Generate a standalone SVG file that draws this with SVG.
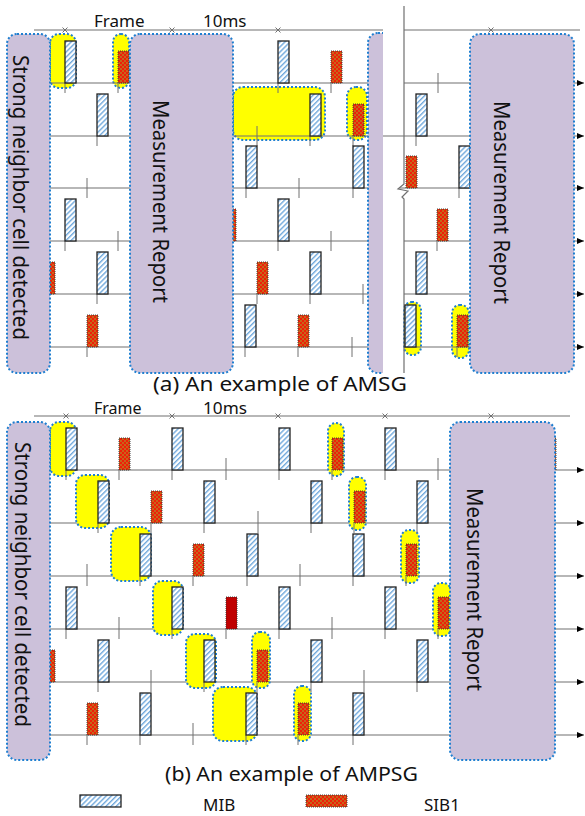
<svg xmlns="http://www.w3.org/2000/svg" width="585" height="816" viewBox="0 0 585 816">
<style>
.mib{fill:url(#hatch);stroke:#222;stroke-width:1.3}
.sib{fill:url(#check);stroke:#333;stroke-width:0.9;stroke-dasharray:1 1}
.sibd{fill:#C00000;stroke:#333;stroke-width:0.9;stroke-dasharray:1 1}
.hl{fill:#FFFF00;stroke:#1F7FD0;stroke-width:2;stroke-dasharray:2 2}
.gb{fill:#CCC1DA;stroke:#1F7FD0;stroke-width:2;stroke-dasharray:2 2}
.ln{stroke:#707070;stroke-width:1.2;fill:none}
.tk{stroke:#707070;stroke-width:1;fill:none}
.xm{stroke:#707070;stroke-width:1;fill:none}
.t{font-family:"Noto Sans","Open Sans",sans-serif;fill:#111}
</style>
<defs>
<pattern id="hatch" patternUnits="userSpaceOnUse" width="3.6" height="3.6" patternTransform="rotate(45)"><rect width="3.6" height="3.6" fill="#fff"/><rect width="1.4" height="3.6" fill="#6FA8DC"/></pattern>
<pattern id="check" patternUnits="userSpaceOnUse" width="4" height="4"><rect width="4" height="4" fill="#EE2008"/><rect width="2" height="2" fill="#C8641A"/><rect x="2" y="2" width="2" height="2" fill="#C8641A"/></pattern>
<marker id="arr" markerUnits="userSpaceOnUse" markerWidth="8" markerHeight="8" refX="7" refY="3" orient="auto"><path d="M0,0 L7,3 L0,6 z" fill="#000"/></marker>
<path id="x" d="M-2.5,-2.5 L2.5,2.5 M-2.5,2.5 L2.5,-2.5"/>
<clipPath id="cutA"><rect x="0" y="0" width="383" height="400"/></clipPath>
</defs>

<!-- ===== Part (a) ===== -->
<g id="highlights-a">
<rect class="hl" x="50" y="34" width="26" height="54" rx="9"/>
<rect class="hl" x="113" y="34" width="16" height="54" rx="8"/>
<rect class="hl" x="233" y="87" width="92" height="53" rx="10"/>
<rect class="hl" x="347" y="87" width="20" height="53" rx="9"/>
<rect class="hl" x="404" y="302" width="17" height="53" rx="8"/>
<rect class="hl" x="452" y="305" width="17" height="53" rx="8"/>
</g>

<g id="connectors">
<!-- timeline a -->
<path class="ln" d="M34,30 H383 M404,30 H580"/>
<use href="#x" class="xm" x="65" y="30"/><use href="#x" class="xm" x="172" y="30"/><use href="#x" class="xm" x="278" y="30"/><use href="#x" class="xm" x="491" y="30"/>
<path class="ln" d="M404,6 V184 L398,189 L408,191 L402,197 L404,199 V373"/>
<!-- rows a -->
<path class="ln" d="M50,83 H383"/><path class="ln" d="M404,83 H584" marker-end="url(#arr)"/>
<path class="ln" d="M50,136 H584" marker-end="url(#arr)"/>
<path class="ln" d="M50,188 H383"/><path class="ln" d="M400,188 H584" marker-end="url(#arr)"/>
<path class="ln" d="M50,241 H383"/><path class="ln" d="M404,241 H584" marker-end="url(#arr)"/>
<path class="ln" d="M50,294 H383"/><path class="ln" d="M404,294 H584" marker-end="url(#arr)"/>
<path class="ln" d="M50,347 H383"/><path class="ln" d="M404,347 H584" marker-end="url(#arr)"/>
<!-- ticks a -->
<path class="tk" d="M65,83 V93 M118,83 V93 M278,83 V93 M331,83 V93 M438,73 V93
M97,136 V146 M257,126 V146 M310,136 V146 M353,136 V146 M416,136 V146
M87,178 V198 M246,188 V198 M299,178 V198 M353,188 V198 M459,188 V198
M65,241 V251 M118,231 V251 M278,241 V251 M331,231 V251 M437,241 V251
M97,294 V304 M257,294 V304 M310,294 V304 M363,284 V304
M87,347 V357 M245,347 V357 M298,347 V357 M352,337 V357 M457,347 V357"/>

<!-- timeline b -->
<path class="ln" d="M34,416 H570"/>
<use href="#x" class="xm" x="66" y="416"/><use href="#x" class="xm" x="172" y="416"/><use href="#x" class="xm" x="278" y="416"/><use href="#x" class="xm" x="385" y="416"/><use href="#x" class="xm" x="491" y="416"/>
<!-- rows b -->
<path class="ln" d="M50,470 H584" marker-end="url(#arr)"/>
<path class="ln" d="M50,523 H584" marker-end="url(#arr)"/>
<path class="ln" d="M50,576 H584" marker-end="url(#arr)"/>
<path class="ln" d="M50,629 H584" marker-end="url(#arr)"/>
<path class="ln" d="M50,682 H584" marker-end="url(#arr)"/>
<path class="ln" d="M50,735 H584" marker-end="url(#arr)"/>
</g>

<g id="highlights-b">
<rect class="hl" x="50" y="422" width="26" height="54" rx="9"/>
<rect class="hl" x="328" y="423" width="16" height="53" rx="8"/>
<rect class="hl" x="76" y="475" width="33" height="53" rx="9"/>
<rect class="hl" x="349" y="477" width="17" height="53" rx="8"/>
<rect class="hl" x="111" y="527" width="40" height="54" rx="10"/>
<rect class="hl" x="401" y="530" width="18" height="53" rx="8"/>
<rect class="hl" x="153" y="581" width="30" height="54" rx="9"/>
<rect class="hl" x="433" y="583" width="18" height="53" rx="8"/>
<rect class="hl" x="186" y="634" width="30" height="54" rx="9"/>
<rect class="hl" x="252" y="632" width="18" height="56" rx="8"/>
<rect class="hl" x="213" y="687" width="44" height="54" rx="10"/>
<rect class="hl" x="294" y="686" width="17" height="55" rx="8"/>
</g>

<g id="ticks-b">
<path class="tk" d="M66,470 V480 M119,470 V480 M172,470 V480 M226,458 V480 M279,470 V480 M332,470 V480 M385,470 V480 M438,458 V480
M98,523 V533 M151,523 V533 M204,523 V533 M258,511 V533 M311,523 V533 M354,523 V533 M417,523 V533
M87,564 V586 M140,576 V586 M193,576 V586 M247,576 V586 M300,564 V586 M353,576 V586 M406,576 V586
M66,629 V639 M119,617 V639 M172,629 V639 M226,629 V639 M279,629 V639 M332,617 V639 M385,629 V639 M438,629 V639
M98,682 V692 M151,670 V692 M204,682 V692 M257,682 V692 M311,682 V692 M364,670 V692 M417,682 V692
M87,735 V745 M140,735 V745 M193,723 V745 M246,735 V745 M298,735 V745 M353,735 V745"/>
</g>

<g id="blocks-a">
<rect class="mib" x="65" y="41" width="11" height="42"/>
<rect class="sib" x="118" y="51" width="11" height="32"/>
<rect class="mib" x="278" y="41" width="11" height="42"/>
<rect class="sib" x="331" y="51" width="11" height="32"/>
<rect class="mib" x="97" y="94" width="11" height="42"/>
<rect class="mib" x="310" y="94" width="11" height="42"/>
<rect class="sib" x="353" y="104" width="11" height="32"/>
<rect class="mib" x="416" y="94" width="11" height="42"/>
<rect class="mib" x="246" y="146" width="11" height="42"/>
<rect class="mib" x="353" y="146" width="11" height="42"/>
<rect class="sib" x="406" y="156" width="11" height="32"/>
<rect class="mib" x="459" y="146" width="11" height="42"/>
<rect class="mib" x="65" y="199" width="11" height="42"/>
<rect class="sib" x="225" y="209" width="11" height="32"/>
<rect class="mib" x="278" y="199" width="11" height="42"/>
<rect class="sib" x="437" y="209" width="11" height="32"/>
<rect class="sib" x="44" y="262" width="11" height="32"/>
<rect class="mib" x="97" y="252" width="11" height="42"/>
<rect class="sib" x="257" y="262" width="11" height="32"/>
<rect class="mib" x="310" y="252" width="11" height="42"/>
<rect class="mib" x="416" y="252" width="11" height="42"/>
<rect class="sib" x="87" y="315" width="11" height="32"/>
<rect class="mib" x="245" y="305" width="11" height="42"/>
<rect class="sib" x="298" y="315" width="11" height="32"/>
<rect class="mib" x="405" y="305" width="11" height="42"/>
<rect class="sib" x="457" y="315" width="11" height="32"/>
</g>

<g id="blocks-b">
<rect class="mib" x="66" y="428" width="11" height="42"/>
<rect class="sib" x="119" y="438" width="11" height="32"/>
<rect class="mib" x="172" y="428" width="11" height="42"/>
<rect class="mib" x="279" y="428" width="11" height="42"/>
<rect class="sib" x="332" y="438" width="11" height="32"/>
<rect class="mib" x="385" y="428" width="11" height="42"/>
<rect class="sib" x="545" y="438" width="11" height="32"/>
<rect class="mib" x="98" y="481" width="11" height="42"/>
<rect class="sib" x="151" y="491" width="11" height="32"/>
<rect class="mib" x="204" y="481" width="11" height="42"/>
<rect class="mib" x="311" y="481" width="11" height="42"/>
<rect class="sib" x="354" y="491" width="11" height="32"/>
<rect class="mib" x="417" y="481" width="11" height="42"/>
<rect class="mib" x="140" y="534" width="11" height="42"/>
<rect class="sib" x="193" y="544" width="11" height="32"/>
<rect class="mib" x="247" y="534" width="11" height="42"/>
<rect class="mib" x="353" y="534" width="11" height="42"/>
<rect class="sib" x="406" y="544" width="11" height="32"/>
<rect class="mib" x="66" y="587" width="11" height="42"/>
<rect class="mib" x="172" y="587" width="11" height="42"/>
<rect class="sibd" x="226" y="597" width="11" height="32"/>
<rect class="mib" x="279" y="587" width="11" height="42"/>
<rect class="mib" x="385" y="587" width="11" height="42"/>
<rect class="sib" x="438" y="597" width="11" height="32"/>
<rect class="sib" x="44" y="650" width="11" height="32"/>
<rect class="mib" x="98" y="640" width="11" height="42"/>
<rect class="mib" x="204" y="640" width="11" height="42"/>
<rect class="sib" x="257" y="650" width="11" height="32"/>
<rect class="mib" x="311" y="640" width="11" height="42"/>
<rect class="mib" x="417" y="640" width="11" height="42"/>
<rect class="sib" x="87" y="703" width="11" height="32"/>
<rect class="mib" x="140" y="693" width="11" height="42"/>
<rect class="mib" x="246" y="693" width="11" height="42"/>
<rect class="sib" x="298" y="703" width="11" height="32"/>
<rect class="mib" x="353" y="693" width="11" height="42"/>
</g>

<g id="strong-a">
<rect class="gb" x="7" y="34" width="43" height="339" rx="10"/>
<text class="t" font-size="22" transform="translate(13,55) rotate(90)" textLength="285" lengthAdjust="spacingAndGlyphs">Strong neighbor cell detected</text>
</g>
<g id="report-a1">
<rect class="gb" x="130" y="34" width="103" height="339" rx="10"/>
<text class="t" font-size="22" transform="translate(153,100) rotate(90)" textLength="203" lengthAdjust="spacingAndGlyphs">Measurement Report</text>
</g>
<g id="partial-a" clip-path="url(#cutA)">
<rect class="gb" x="368" y="33" width="40" height="340" rx="10"/>
</g>
<g id="report-a2">
<rect class="gb" x="470" y="34" width="104" height="339" rx="10"/>
<text class="t" font-size="22" transform="translate(494,101) rotate(90)" textLength="203" lengthAdjust="spacingAndGlyphs">Measurement Report</text>
</g>

<g id="strong-b">
<rect class="gb" x="7" y="422" width="43" height="338" rx="10"/>
<text class="t" font-size="22" transform="translate(15,442) rotate(90)" textLength="285" lengthAdjust="spacingAndGlyphs">Strong neighbor cell detected</text>
</g>
<g id="report-b">
<rect class="gb" x="450" y="422" width="105" height="338" rx="10"/>
<text class="t" font-size="22" transform="translate(467,488) rotate(90)" textLength="203" lengthAdjust="spacingAndGlyphs">Measurement Report</text>
</g>

<g id="labels">
<text class="t" font-size="17" x="94" y="27">Frame</text>
<text class="t" font-size="17" x="203" y="27">10ms</text>
<text class="t" font-size="20" x="153" y="391" textLength="254" lengthAdjust="spacingAndGlyphs">(a) An example of AMSG</text>
<text class="t" font-size="16" x="94" y="414">Frame</text>
<text class="t" font-size="16" x="203" y="414" textLength="44" lengthAdjust="spacingAndGlyphs">10ms</text>
<text class="t" font-size="20" x="165" y="781" textLength="253" lengthAdjust="spacingAndGlyphs">(b) An example of AMPSG</text>
</g>

<g id="legend">
<rect class="mib" x="80" y="795" width="41" height="12"/>
<text class="t" font-size="17" x="203" y="811">MIB</text>
<rect class="sib" x="306" y="795" width="41" height="12"/>
<text class="t" font-size="17" x="424" y="811">SIB1</text>
</g>
</svg>
